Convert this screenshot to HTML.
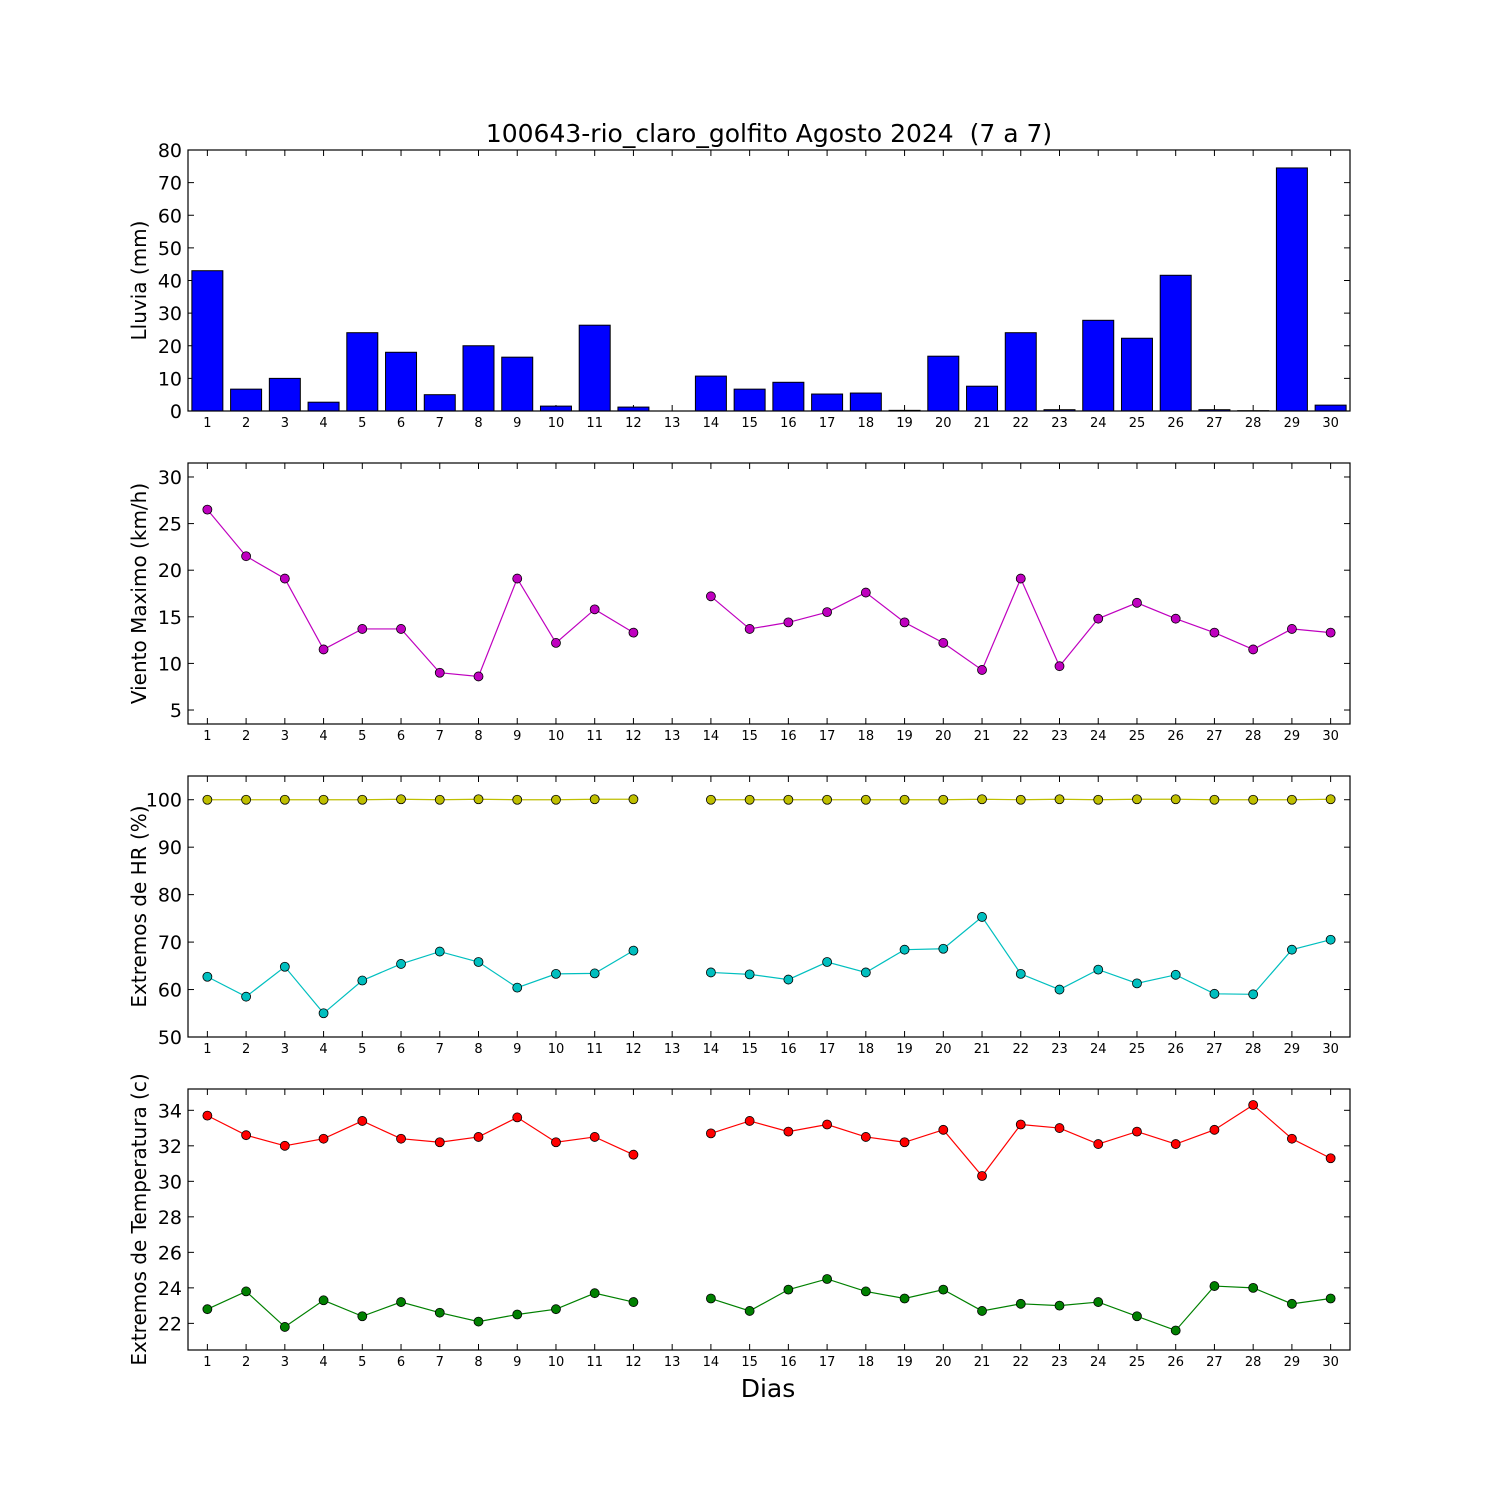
<!DOCTYPE html>
<html><head><meta charset="utf-8"><style>
body{margin:0;background:#fff;font-family:"DejaVu Sans","Liberation Sans",sans-serif}
svg{display:block}
</style></head><body>
<svg id="chart" width="1500" height="1500" xmlns="http://www.w3.org/2000/svg" font-family="DejaVu Sans, Liberation Sans, sans-serif">
<rect width="1500" height="1500" fill="#fff"/>
<text x="769" y="142" font-size="25" text-anchor="middle" style="white-space:pre" xml:space="preserve">100643-rio_claro_golfito Agosto 2024  (7 a 7)</text>
<text x="768" y="1397" font-size="25" text-anchor="middle">Dias</text>
</svg>
<script>
const days = Array.from({length:30},(_,i)=>i+1);
const rain = [43,6.7,10,2.7,24,18,5,20,16.5,1.5,26.3,1.2,0,10.7,6.7,8.8,5.2,5.5,0.2,16.8,7.6,24,0.4,27.8,22.3,41.6,0.4,0.1,74.5,1.8];
const wind = [26.5,21.5,19.1,11.5,13.7,13.7,9.0,8.6,19.1,12.2,15.8,13.3,null,17.2,13.7,14.4,15.5,17.6,14.4,12.2,9.3,19.1,9.7,14.8,16.5,14.8,13.3,11.5,13.7,13.3];
const hrMax = [100,100,100,100,100,100.1,100,100.1,100,100,100.1,100.1,null,100,100,100,100,100,100,100,100.1,100,100.1,100,100.1,100.1,100,100,100,100.1];
const hrMin = [62.7,58.5,64.8,55,61.9,65.4,68,65.8,60.4,63.3,63.4,68.2,null,63.6,63.2,62.1,65.8,63.6,68.4,68.6,75.3,63.3,60,64.2,61.3,63.1,59.1,59,68.4,70.5];
const tMax = [33.7,32.6,32,32.4,33.4,32.4,32.2,32.5,33.6,32.2,32.5,31.5,null,32.7,33.4,32.8,33.2,32.5,32.2,32.9,30.3,33.2,33.0,32.1,32.8,32.1,32.9,34.3,32.4,31.3];
const tMin = [22.8,23.8,21.8,23.3,22.4,23.2,22.6,22.1,22.5,22.8,23.7,23.2,null,23.4,22.7,23.9,24.5,23.8,23.4,23.9,22.7,23.1,23.0,23.2,22.4,21.6,24.1,24.0,23.1,23.4];
const rainTicks=[0,10,20,30,40,50,60,70,80];
const windTicks=[5,10,15,20,25,30];
const hrTicks=[50,60,70,80,90,100];
const tTicks=[22,24,26,28,30,32,34];

const NS="http://www.w3.org/2000/svg";
const svg=document.getElementById('chart');
const L=188,R=1350;
function el(t,a,p){const e=document.createElementNS(NS,t);for(const k in a)e.setAttribute(k,a[k]);(p||svg).appendChild(e);return e;}
function xs(d){return L+(d-0.5)/30*(R-L);}

function panel(name,top,bot,y0,y1,ticks,label){
  const g=el('g',{});
  
  
  const ys=v=>bot-(v-y0)/(y1-y0)*(bot-top);
  ticks.forEach(t=>{
    const y=ys(t);
    el('line',{x1:L,x2:L+6,y1:y,y2:y,stroke:'#000'},g);
    el('line',{x1:R,x2:R-6,y1:y,y2:y,stroke:'#000'},g);
    const tx=el('text',{x:L-6,y:y+7,'font-size':19,'text-anchor':'end'},g);
    
    
    tx.textContent=t;
  });
  days.forEach(d=>{
    const x=xs(d);
    el('line',{x1:x,x2:x,y1:bot,y2:bot-6,stroke:'#000'},g);
    el('line',{x1:x,x2:x,y1:top,y2:top+6,stroke:'#000'},g);
    const tx=el('text',{x:x,y:bot+16,'font-size':13,'text-anchor':'middle'},g);
    
    
    tx.textContent=d;
  });
  const cy=(top+bot)/2;
  const yl=el('text',{x:146,y:cy,'font-size':20,'text-anchor':'middle',transform:`rotate(-90 146 ${cy})`},g);
  
  
  yl.textContent=label;
  return {g,ys,top,bot};
}
function frame(p){el('rect',{x:L,y:p.top,width:R-L,height:p.bot-p.top,fill:'none',stroke:'#000','stroke-width':1.2},p.g);}
function series(p,vals,color,name){
  let segs=[],cur=[];
  vals.forEach((v,i)=>{if(v==null){if(cur.length)segs.push(cur);cur=[];}else cur.push([xs(days[i]),p.ys(v)]);});
  if(cur.length)segs.push(cur);
  segs.forEach(s=>{
    const pl=el('polyline',{points:s.map(q=>q.join(',')).join(' '),fill:'none',stroke:color,'stroke-width':1.2},p.g);
    
    
  });
  vals.forEach((v,i)=>{if(v==null)return;
    const c=el('circle',{cx:xs(days[i]),cy:p.ys(v),r:4.5,fill:color,stroke:'#000','stroke-width':0.8},p.g);
    
    
  });
}
const p1=panel('rain',150,411,0,80,rainTicks,'Lluvia (mm)');
rain.forEach((v,i)=>{
  const x=xs(days[i])-0.4*(R-L)/30, w=0.8*(R-L)/30;
  const b=el('rect',{x:x,y:p1.ys(v),width:w,height:p1.ys(0)-p1.ys(v),fill:'#0000ff',stroke:'#000','stroke-width':1},p1.g);
  
  
});
frame(p1);
const p2=panel('wind',463,724,3.5,31.5,windTicks,'Viento Maximo (km/h)');
series(p2,wind,'#bf00bf','wind-max');frame(p2);
const p3=panel('humidity',776,1037,50,105,hrTicks,'Extremos de HR (%)');
series(p3,hrMax,'#bfbf00','hr-max');series(p3,hrMin,'#00bfbf','hr-min');frame(p3);
const p4=panel('temperature',1089,1350,20.5,35.2,tTicks,'Extremos de Temperatura (c)');
series(p4,tMax,'#ff0000','temp-max');series(p4,tMin,'#008000','temp-min');frame(p4);
</script>
</body></html>
